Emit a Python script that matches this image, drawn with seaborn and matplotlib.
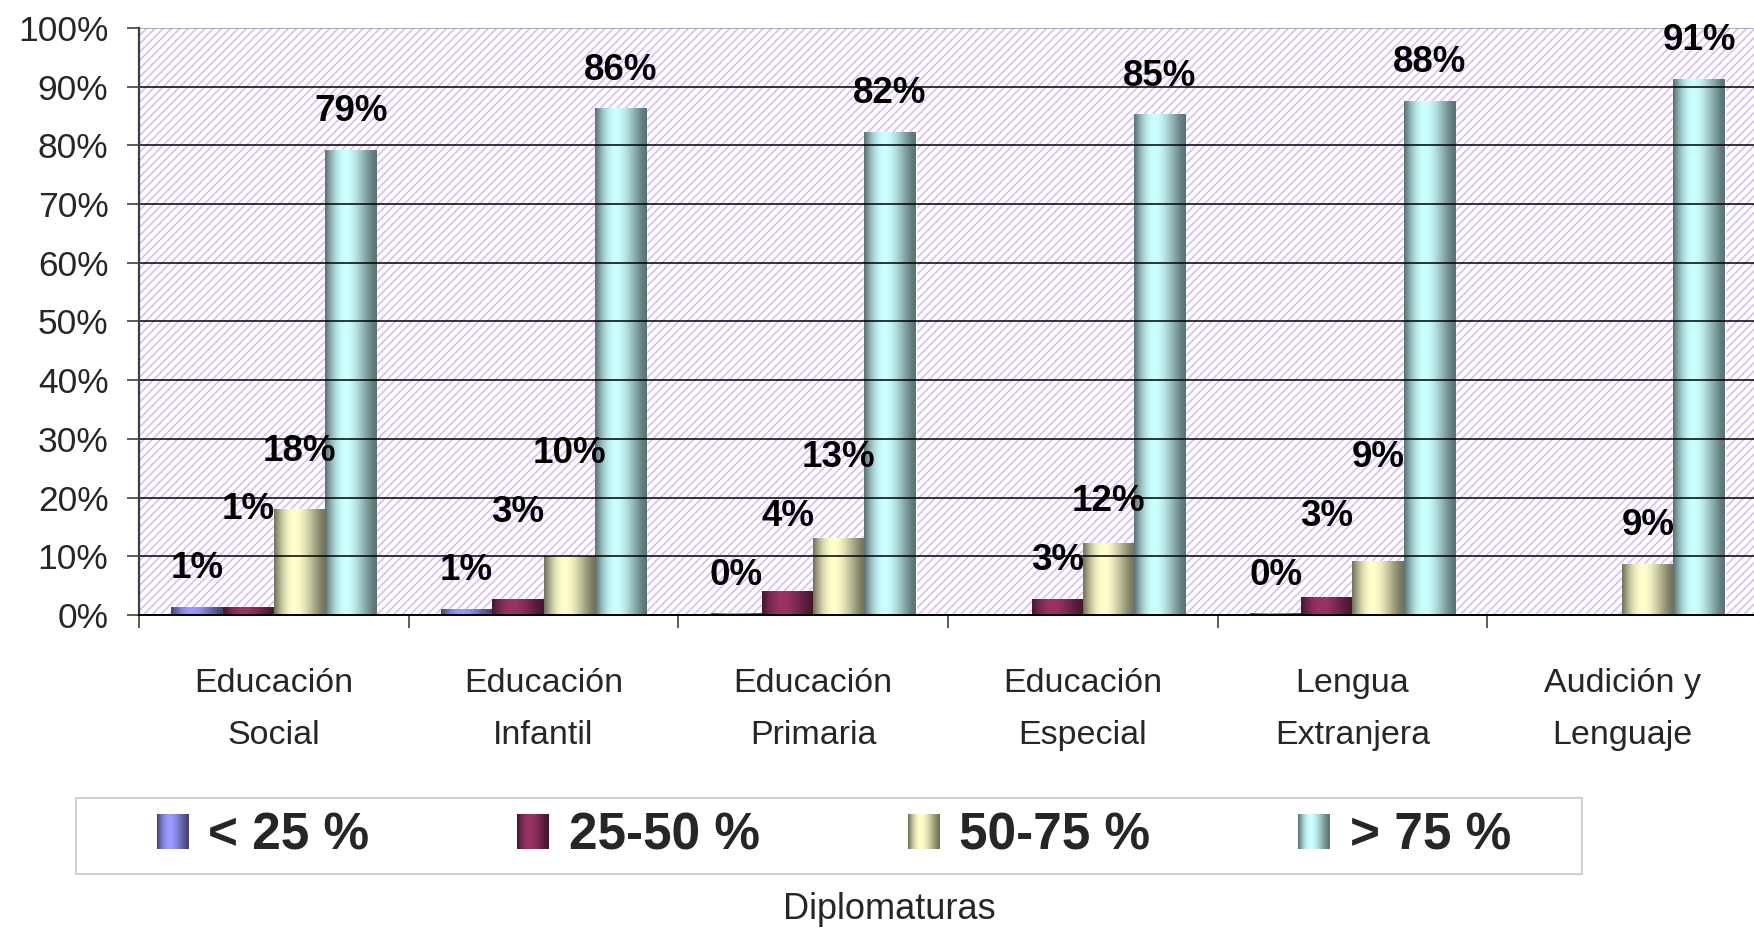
import numpy as np
import pandas as pd
import matplotlib
matplotlib.use("Agg")
import matplotlib.pyplot as plt
import seaborn as sns
from matplotlib.colors import to_rgb
from matplotlib.patches import Rectangle
from matplotlib.legend_handler import HandlerBase
from matplotlib.image import BboxImage
from matplotlib.transforms import Bbox, TransformedBbox

# ---- data -------------------------------------------------------------
categories = ["Educación\nSocial", "Educación\nInfantil", "Educación\nPrimaria",
              "Educación\nEspecial", "Lengua\nExtranjera", "Audición y\nLenguaje"]
series = ["< 25 %", "25-50 %", "50-75 %", "> 75 %"]
menos_25 = [1.4, 1.0, 0.3, np.nan, 0.3, np.nan]
de_25_50 = [1.4, 2.7, 4.1, 2.8, 3.0, np.nan]
de_50_75 = [18.0, 10.0, 13.2, 12.3, 9.2, 8.7]
mas_75 = [79.2, 86.3, 82.3, 85.3, 87.6, 91.3]
yticks = list(range(0, 101, 10))
xlabel = "Diplomaturas"

colors = ["#9999ff", "#993366", "#ffffcc", "#ccffff"]

rows = []
for name, vals in zip(series, [menos_25, de_25_50, de_50_75, mas_75]):
    for cat, v in zip(categories, vals):
        rows.append({"categoria": cat, "rango": name, "valor": v})
df = pd.DataFrame(rows)

# ---- style ------------------------------------------------------------
sns.set_style("white")
plt.rcParams["font.family"] = ["Liberation Sans", "DejaVu Sans"]
plt.rcParams["hatch.linewidth"] = 1.25

fig = plt.figure(figsize=(17.54, 9.30), dpi=100)
ax = fig.add_axes([139 / 1754, 315 / 930, 1618 / 1754, 587 / 930])

# lavender diagonal pattern behind the bars
ax.set_facecolor("white")
ax.add_patch(Rectangle((0, 0), 1, 1, transform=ax.transAxes, facecolor="white",
                       edgecolor="#d9bdfb", hatch="////", lw=0, zorder=0))

sns.barplot(data=df, x="categoria", y="valor", hue="rango", order=categories,
            hue_order=series, palette=colors, width=0.76, gap=0,
            errorbar=None, legend=False, ax=ax, zorder=2)


def shade(color, n=64):
    """Cylinder-like horizontal shading: dark edges, light band left of centre."""
    base = np.array(to_rgb(color))
    dark = base * 0.45
    t = np.linspace(0, 1, n)
    f = np.sin(np.pi * t ** 0.756) ** 1.4
    return (dark[None, :] + (base - dark)[None, :] * f[:, None])[None, :, :]


ax.set_xlim(-0.5, len(categories) - 0.5)
ax.set_ylim(0, 100)

# gradient fill clipped to each bar, and collect bar tops for the labels
tops = {}
for i, cont in enumerate(ax.containers):
    img = shade(colors[i])
    for bar in cont:
        h = bar.get_height()
        if not np.isfinite(h):
            continue
        x0, w = bar.get_x(), bar.get_width()
        im = ax.imshow(img, extent=[x0, x0 + w, 0, h], aspect="auto",
                       interpolation="bilinear", zorder=2.1)
        im.set_clip_path(bar)
        g = int(round(x0 + w / 2))
        tops.setdefault(g, []).append((i, x0 + w / 2, h))

ax.set_xlim(-0.5, len(categories) - 0.5)
ax.set_ylim(0, 100)

# value labels, lifted so that neighbouring labels do not collide
for g, items in tops.items():
    prev = None
    for i, xc, h in sorted(items):
        y = h + 6.5
        if prev is not None:
            y = max(y, prev + 10.0)
        prev = y
        ax.text(xc, y, f"{round(h)}%", ha="center", va="center",
                fontsize=26.5, fontweight="bold", color="black", zorder=5)

# axes, ticks and grid
ax.set_yticks(yticks)
ax.set_yticklabels([f"{v}%" for v in yticks])
ax.yaxis.grid(True, color="black", lw=1.1, zorder=1)
ax.set_axisbelow(False)
for gl in ax.get_ygridlines():
    gl.set_zorder(1)
ax.get_ygridlines()[-1].set_color("#999999")
ax.get_ygridlines()[0].set_visible(False)

ax.tick_params(axis="y", which="major", left=True, length=9, width=1.2,
               color="#404040", pad=13, labelsize=25.5)
ax.set_xticks(range(len(categories)))
ax.set_xticklabels(categories, fontsize=24.5, linespacing=1.9)
ax.tick_params(axis="x", which="major", length=0, pad=38)
ax.set_xticks(np.arange(-0.5, len(categories), 1.0), minor=True)
ax.tick_params(axis="x", which="minor", bottom=True, length=9, width=1.2,
               color="#404040")
ax.set_xlabel("")
ax.set_ylabel("")

for side in ["top", "right"]:
    ax.spines[side].set_visible(False)
ax.spines["left"].set_color("#404040")
ax.spines["left"].set_linewidth(1.6)
ax.spines["bottom"].set_color("black")
ax.spines["bottom"].set_linewidth(1.4)
ax.spines["left"].set_zorder(6)
ax.spines["bottom"].set_zorder(6)


# legend with shaded swatches
class ShadedHandler(HandlerBase):
    def __init__(self, color):
        super().__init__()
        self.color = color

    def create_artists(self, legend, orig_handle, xdescent, ydescent,
                       width, height, fontsize, trans):
        bb = TransformedBbox(Bbox.from_bounds(-xdescent, -ydescent, width, height), trans)
        im = BboxImage(bb, interpolation="bilinear")
        im.set_data(shade(self.color))
        return [im]


# legend frame drawn as its own box in figure coordinates
fig.patches.append(Rectangle((76 / 1754, 1 - 874 / 930), 1506 / 1754, 76 / 930,
                             transform=fig.transFigure, facecolor="white",
                             edgecolor="#c8c8c8", lw=1.2, zorder=0))

handles = [Rectangle((0, 0), 1, 1, color=c) for c in colors]
leg = fig.legend(handles, series, ncol=4, loc="center",
                 bbox_to_anchor=(834 / 1754, 1 - 836 / 930),
                 frameon=False,
                 prop={"family": "Liberation Sans", "weight": "bold", "size": 37},
                 handlelength=0.62, handleheight=0.66, handletextpad=0.38,
                 columnspacing=2.88, borderpad=0.0,
                 handler_map={h: ShadedHandler(c) for h, c in zip(handles, colors)})

fig.text(889 / 1754, 1 - 909 / 930, xlabel, ha="center", va="center", fontsize=26)

fig.savefig("out.png", dpi=100)
